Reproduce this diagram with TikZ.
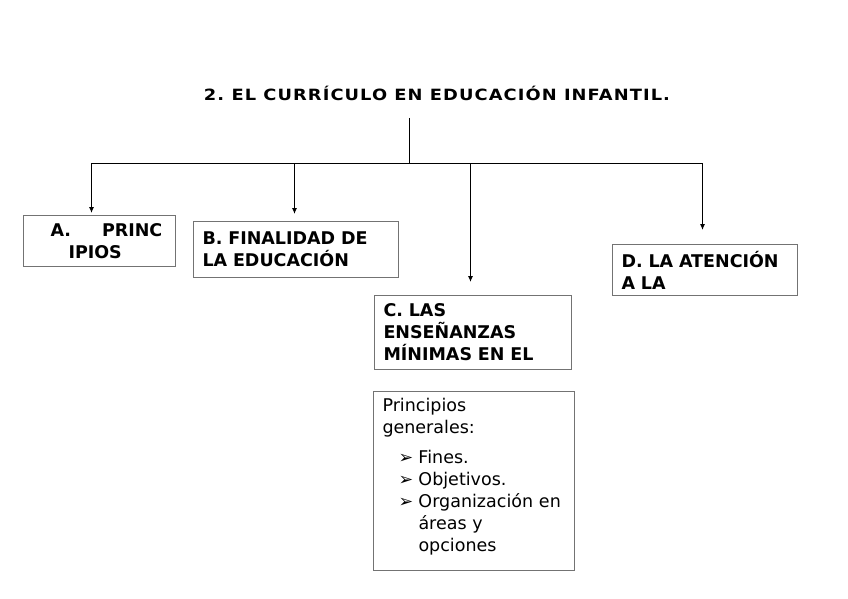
\documentclass[tikz,border=0pt]{standalone}
\usepackage{fontspec}
\setmainfont{DejaVu Sans}
\usetikzlibrary{positioning,arrows.meta,calc}

\newfontfamily\titlefont[LetterSpace=7,FakeStretch=1.15]{DejaVu Sans}

\tikzset{
  box/.style={draw=black!55, line width=1pt, rectangle, anchor=north west,
    inner xsep=9pt, inner ysep=0pt, align=left,
    font=\bfseries\fontsize{17.5}{22}\selectfont},
  plainbox/.style={box, font=\fontsize{17.5}{22}\selectfont},
  link/.style={->, line width=1pt, >={Latex[length=6pt,width=5pt]}},
}

\begin{document}
\frenchspacing
\begin{tikzpicture}[x=1pt,y=-1pt]

  \useasboundingbox (0,0) rectangle (848,599);

  \node[font=\titlefont\bfseries\fontsize{15.5}{22}\selectfont, anchor=base] (title) at (437,101)
    {2. EL CURRÍCULO EN EDUCACIÓN INFANTIL.};

  \node[box, text width=134pt, minimum height=51pt] (pA) at (23,215)
    {\hspace*{18pt}A.\hspace{31pt}PRINC\\ \hspace*{36pt}IPIOS};
  \node[box, text width=187pt, minimum height=56pt] (pB) at (193,221)
    {B. FINALIDAD DE\\LA EDUCACIÓN};
  \node[box, text width=179pt, minimum height=74pt] (pC) at (374,295)
    {C. LAS\\ENSEÑANZAS\\MÍNIMAS EN EL};
  \node[box, text width=167pt, minimum height=51pt] (pD) at (612,244)
    {\mbox{D. LA ATENCIÓN}\\A LA};
  \node[plainbox, text width=183pt, minimum height=179pt] (pE) at (373,391)
    {Principios\\generales:\\[8pt]
     \hspace*{16pt}\makebox[20pt][l]{➢}Fines.\\
     \hspace*{16pt}\makebox[20pt][l]{➢}Objetivos.\\
     \hspace*{16pt}\makebox[20pt][l]{➢}\mbox{Organización en}\\
     \hspace*{36pt}áreas y\\
     \hspace*{36pt}opciones\rule[-12.3pt]{0pt}{12.3pt}};

  \coordinate (hub) at (409,163);

  \draw[line width=1pt] ([yshift=-17pt]title.base -| hub) -- (hub);
  \draw[link, shorten >=2pt] (hub) -| ([xshift=-8pt]pA.north);
  \draw[link, shorten >=7pt] (hub) -| ([xshift=-1.5pt]pB.north);
  \draw[link, shorten >=13pt] (hub) -| ([xshift=-2.5pt]pC.north);
  \draw[link, shorten >=14pt] (hub) -| ([xshift=-2.5pt]pD.north);

\end{tikzpicture}
\end{document}
